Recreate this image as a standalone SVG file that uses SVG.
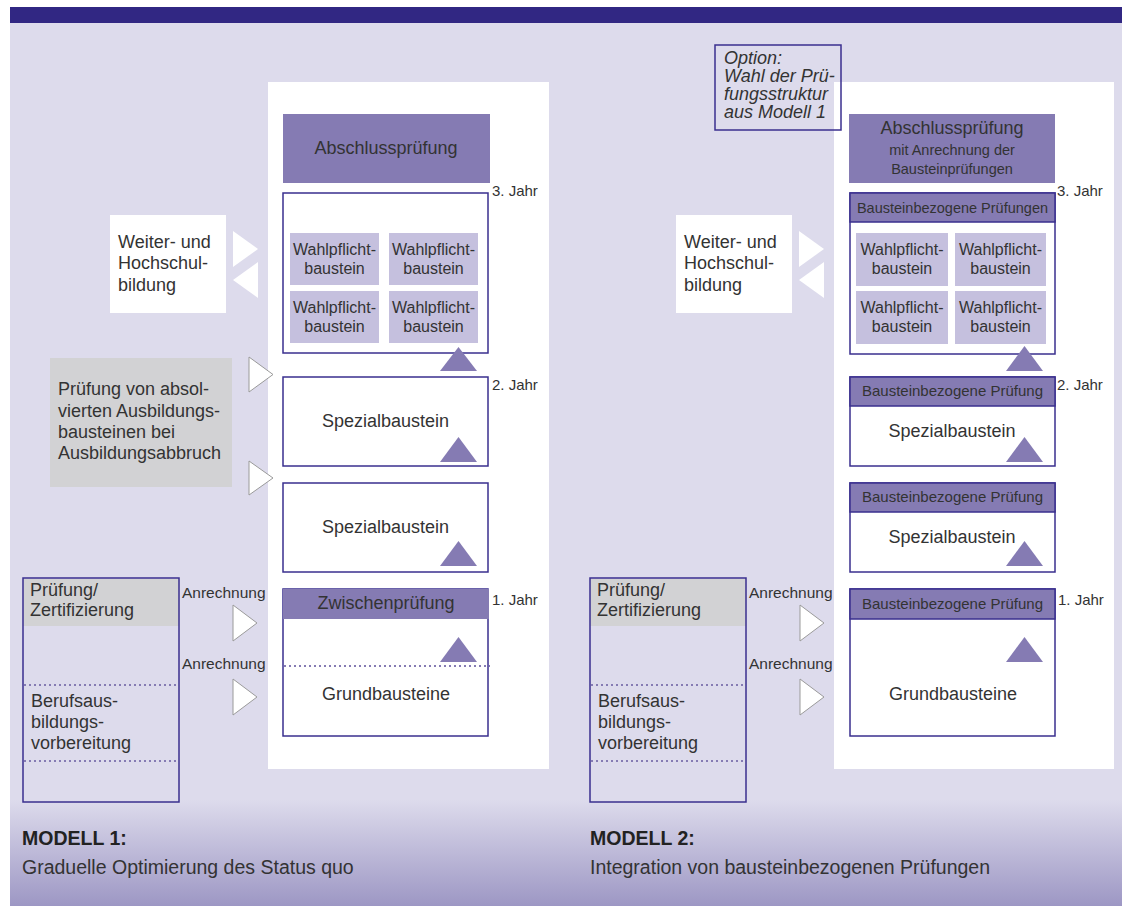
<svg xmlns="http://www.w3.org/2000/svg" width="1122" height="906" viewBox="0 0 1122 906">
<defs>
<linearGradient id="foot" x1="0" y1="0" x2="0" y2="1">
<stop offset="0" stop-color="#dddbec"/>
<stop offset="1" stop-color="#9d97c4"/>
</linearGradient>
<style>
text{font-family:"Liberation Sans",Arial,sans-serif;fill:#333333}
.t18{font-size:18px}
.t15{font-size:15px}
.t16{font-size:16px}
.an{font-size:15.5px}
.t14{font-size:14.5px}
.mid{text-anchor:middle}
.box{fill:#ffffff;stroke:#3a2f8e;stroke-width:1.5}
.hdr{fill:#857bb3}
.wp{fill:#c5c0de}
.tri{fill:#857bb3}
.otri{fill:#ffffff;stroke:#9a9a9a;stroke-width:1}
.wtri{fill:#ffffff}
.dot{stroke:#857bb3;stroke-width:2;stroke-dasharray:2 3;fill:none}
.frame{fill:none;stroke:#3a2f8e;stroke-width:1.5}
.grey{fill:#d2d2d4}
.panel{fill:#ffffff}
.ital{font-style:italic;font-size:18px}
.foot{font-size:19.5px}
</style>
</defs>

<!-- background -->
<rect x="10" y="7" width="1112" height="16" fill="#312783"/>
<rect x="10" y="23" width="1112" height="780" fill="#dddbec"/>
<rect x="10" y="800" width="1112" height="106" fill="url(#foot)"/>

<!-- ================= MODELL 1 ================= -->
<g id="m1-panel"><rect class="panel" x="268" y="82" width="281" height="687"/></g>

<g id="m1-abschluss">
<rect class="hdr" x="283" y="114" width="207" height="69"/>
<text class="t18 mid" x="386" y="154">Abschlussprüfung</text>
</g>

<g id="m1-jahr3">
<rect class="box" x="283" y="193" width="205" height="160"/>
<rect class="wp" x="290" y="233" width="89" height="52"/>
<rect class="wp" x="389" y="233" width="89" height="52"/>
<rect class="wp" x="290" y="291" width="89" height="52"/>
<rect class="wp" x="389" y="291" width="89" height="52"/>
<text class="t16 mid" x="334.5" y="255">Wahlpflicht-</text>
<text class="t16 mid" x="334.5" y="274">baustein</text>
<text class="t16 mid" x="433.5" y="255">Wahlpflicht-</text>
<text class="t16 mid" x="433.5" y="274">baustein</text>
<text class="t16 mid" x="334.5" y="313">Wahlpflicht-</text>
<text class="t16 mid" x="334.5" y="332">baustein</text>
<text class="t16 mid" x="433.5" y="313">Wahlpflicht-</text>
<text class="t16 mid" x="433.5" y="332">baustein</text>
<text class="t15" x="492" y="196">3. Jahr</text>
</g>

<g id="m1-jahr2">
<rect class="box" x="283" y="377" width="205" height="89"/>
<text class="t18 mid" x="385.5" y="427">Spezialbaustein</text>
<text class="t15" x="492" y="390">2. Jahr</text>
</g>

<g id="m1-spezial">
<rect class="box" x="283" y="483" width="205" height="89"/>
<text class="t18 mid" x="385.5" y="533">Spezialbaustein</text>
</g>

<g id="m1-jahr1">
<rect class="box" x="283" y="589" width="205" height="147"/>
<rect class="hdr" x="283" y="589" width="206" height="30"/>
<text class="t18 mid" x="386" y="609">Zwischenprüfung</text>
<line class="dot" x1="284" y1="666" x2="490" y2="666"/>
<text class="t18 mid" x="386" y="700">Grundbausteine</text>
<text class="t15" x="492" y="605">1. Jahr</text>
</g>

<g id="m1-weiter">
<rect fill="#ffffff" x="110" y="215" width="116" height="98"/>
<text class="t18" x="118" y="248">Weiter- und</text>
<text class="t18" x="118" y="269">Hochschul-</text>
<text class="t18" x="118" y="291">bildung</text>
</g>

<g id="m1-abbruch">
<rect class="grey" x="50" y="358" width="182" height="129"/>
<text class="t18" x="58" y="395">Prüfung von absol-</text>
<text class="t18" x="58" y="417">vierten Ausbildungs-</text>
<text class="t18" x="58" y="438">bausteinen bei</text>
<text class="t18" x="58" y="459">Ausbildungsabbruch</text>
</g>

<g id="m1-vorbereitung">
<rect class="grey" x="23" y="579" width="156" height="47"/>
<rect class="frame" x="23" y="578" width="156" height="224"/>
<text class="t18" x="30" y="596">Prüfung/</text>
<text class="t18" x="30" y="616">Zertifizierung</text>
<line class="dot" x1="24" y1="685" x2="178" y2="685"/>
<text class="t18" x="31" y="707">Berufsaus-</text>
<text class="t18" x="31" y="728">bildungs-</text>
<text class="t18" x="31" y="749">vorbereitung</text>
<line class="dot" x1="24" y1="761" x2="178" y2="761"/>
</g>

<!-- ================= MODELL 2 ================= -->
<g id="m2-panel"><rect class="panel" x="834" y="82" width="280" height="687"/></g>

<g id="m2-option">
<rect class="frame" x="715" y="45" width="126" height="85" stroke-width="1.2"/>
<text class="ital" x="724" y="64">Option:</text>
<text class="ital" x="724" y="82">Wahl der Prü-</text>
<text class="ital" x="724" y="100">fungsstruktur</text>
<text class="ital" x="724" y="118">aus Modell 1</text>
</g>

<g id="m2-abschluss">
<rect class="hdr" x="849" y="114" width="206" height="69"/>
<text class="t18 mid" x="952" y="134">Abschlussprüfung</text>
<text class="t14 mid" x="952" y="155">mit Anrechnung der</text>
<text class="t14 mid" x="952" y="174">Bausteinprüfungen</text>
</g>

<g id="m2-jahr3">
<rect class="box" x="850" y="193" width="205" height="161"/>
<rect class="hdr" x="850" y="193" width="205" height="29"/>
<rect class="frame" x="850" y="193" width="205" height="29"/>
<text class="t14 mid" x="952.5" y="213">Bausteinbezogene Prüfungen</text>
<rect class="wp" x="856" y="233" width="92" height="53"/>
<rect class="wp" x="955" y="233" width="91" height="53"/>
<rect class="wp" x="856" y="291" width="92" height="53"/>
<rect class="wp" x="955" y="291" width="91" height="53"/>
<text class="t16 mid" x="902" y="255">Wahlpflicht-</text>
<text class="t16 mid" x="902" y="274">baustein</text>
<text class="t16 mid" x="1000.5" y="255">Wahlpflicht-</text>
<text class="t16 mid" x="1000.5" y="274">baustein</text>
<text class="t16 mid" x="902" y="313">Wahlpflicht-</text>
<text class="t16 mid" x="902" y="332">baustein</text>
<text class="t16 mid" x="1000.5" y="313">Wahlpflicht-</text>
<text class="t16 mid" x="1000.5" y="332">baustein</text>
<text class="t15" x="1057" y="196">3. Jahr</text>
</g>

<g id="m2-jahr2">
<rect class="box" x="850" y="377" width="205" height="89"/>
<rect class="hdr" x="850" y="377" width="205" height="29"/>
<rect class="frame" x="850" y="377" width="205" height="29"/>
<text class="t15 mid" x="952.5" y="396">Bausteinbezogene Prüfung</text>
<text class="t18 mid" x="952" y="437">Spezialbaustein</text>
<text class="t15" x="1057" y="390">2. Jahr</text>
</g>

<g id="m2-spezial">
<rect class="box" x="850" y="483" width="205" height="89"/>
<rect class="hdr" x="850" y="483" width="205" height="29"/>
<rect class="frame" x="850" y="483" width="205" height="29"/>
<text class="t15 mid" x="952.5" y="502">Bausteinbezogene Prüfung</text>
<text class="t18 mid" x="952" y="543">Spezialbaustein</text>
</g>

<g id="m2-jahr1">
<rect class="box" x="850" y="589" width="205" height="147"/>
<rect class="hdr" x="850" y="589" width="205" height="30"/>
<rect class="frame" x="850" y="589" width="205" height="30"/>
<text class="t15 mid" x="952.5" y="609">Bausteinbezogene Prüfung</text>
<text class="t18 mid" x="953" y="700">Grundbausteine</text>
<text class="t15" x="1058" y="605">1. Jahr</text>
</g>

<g id="m2-weiter">
<rect fill="#ffffff" x="676" y="215" width="116" height="98"/>
<text class="t18" x="684" y="248">Weiter- und</text>
<text class="t18" x="684" y="269">Hochschul-</text>
<text class="t18" x="684" y="291">bildung</text>
</g>

<g id="m2-vorbereitung">
<rect class="grey" x="590" y="579" width="156" height="47"/>
<rect class="frame" x="590" y="578" width="156" height="224"/>
<text class="t18" x="597" y="596">Prüfung/</text>
<text class="t18" x="597" y="616">Zertifizierung</text>
<line class="dot" x1="591" y1="685" x2="745" y2="685"/>
<text class="t18" x="598" y="707">Berufsaus-</text>
<text class="t18" x="598" y="728">bildungs-</text>
<text class="t18" x="598" y="749">vorbereitung</text>
<line class="dot" x1="591" y1="761" x2="745" y2="761"/>
</g>

<!-- ================= CONNECTORS ================= -->
<g id="connectors">
<!-- model 1 -->
<polygon class="tri" points="440,371 477,371 458.5,347"/>
<polygon class="tri" points="440,462 477,462 458.5,437"/>
<polygon class="tri" points="440,566 477,566 458.5,541"/>
<polygon class="tri" points="440,662 477,662 458.5,637"/>
<polygon class="wtri" points="233,231 258,249 233,267"/>
<polygon class="wtri" points="258,262 233,280 258,298"/>
<polygon class="otri" points="249,357 273,374.5 249,392"/>
<polygon class="otri" points="249,461 273,478 249,495"/>
<polygon class="otri" points="233,605 257,623 233,641"/>
<polygon class="otri" points="233,679 257,697 233,715"/>
<text class="an" x="182" y="598">Anrechnung</text>
<text class="an" x="182" y="669">Anrechnung</text>
<!-- model 2 -->
<polygon class="tri" points="1006,371 1043,371 1024.5,346"/>
<polygon class="tri" points="1006,462 1043,462 1024.5,437"/>
<polygon class="tri" points="1006,566 1043,566 1024.5,541"/>
<polygon class="tri" points="1006,662 1043,662 1024.5,637"/>
<polygon class="wtri" points="799,231 824,249 799,267"/>
<polygon class="wtri" points="824,262 799,280 824,298"/>
<polygon class="otri" points="800,605 824,623 800,641"/>
<polygon class="otri" points="800,679 824,697 800,715"/>
<text class="an" x="749" y="598">Anrechnung</text>
<text class="an" x="749" y="669">Anrechnung</text>
</g>

<!-- footer -->
<g id="footer">
<text class="foot" x="22" y="845" style="font-weight:bold;fill:#222">MODELL 1:</text>
<text class="foot" x="22" y="874">Graduelle Optimierung des Status quo</text>
<text class="foot" x="590" y="845" style="font-weight:bold;fill:#222">MODELL 2:</text>
<text class="foot" x="590" y="874">Integration von bausteinbezogenen Prüfungen</text>
</g>
</svg>
